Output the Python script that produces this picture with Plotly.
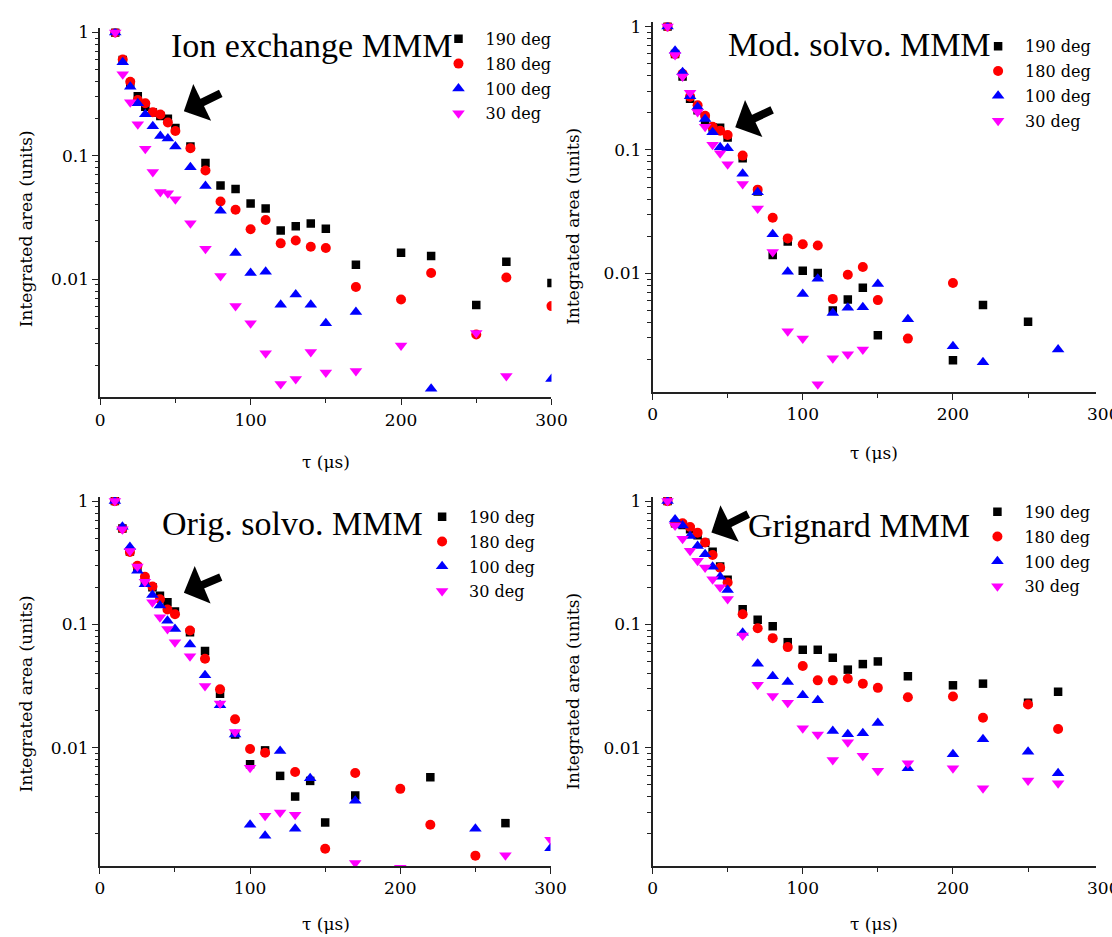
import plotly.graph_objects as go

# ---------------- data: integrated area vs delay time tau (us) ----------------
series_names = ["190 deg", "180 deg", "100 deg", "30 deg"]
panel_titles = ["Ion exchange MMM", "Mod. solvo. MMM", "Orig. solvo. MMM", "Grignard MMM"]

# Ion exchange MMM
ion_t_190 = [10, 15, 20, 25, 30, 35, 40, 45, 50, 60, 70, 80, 90, 100, 110, 120, 130, 140, 150, 170, 200, 220, 250, 270, 300]
ion_v_190 = [1.0, 0.60, 0.385, 0.304, 0.25, 0.225, 0.21, 0.20, 0.168, 0.119, 0.0874, 0.0575, 0.0538, 0.041, 0.0374,
             0.0248, 0.0269, 0.0282, 0.0256, 0.0131, 0.0164, 0.0154, 0.00616, 0.0138, 0.0093]
ion_t_180 = [10, 15, 20, 25, 30, 35, 40, 45, 50, 60, 70, 80, 90, 100, 110, 120, 130, 140, 150, 170, 200, 220, 250, 270, 300]
ion_v_180 = [1.0, 0.605, 0.398, 0.284, 0.267, 0.226, 0.216, 0.186, 0.159, 0.115, 0.0759, 0.0426, 0.0365, 0.0254, 0.0302,
             0.0195, 0.0206, 0.0183, 0.0179, 0.00863, 0.00684, 0.0112, 0.00355, 0.0103, 0.00604]
ion_t_100 = [10, 15, 20, 25, 30, 35, 40, 45, 50, 60, 70, 80, 90, 100, 110, 120, 130, 140, 150, 170, 220, 300]
ion_v_100 = [1.0, 0.575, 0.363, 0.267, 0.217, 0.174, 0.1445, 0.138, 0.119, 0.0806, 0.0569, 0.0359, 0.0163, 0.0112, 0.0115,
             0.0062, 0.0075, 0.0062, 0.00439, 0.0054, 0.00129, 0.00155]
ion_t_30 = [10, 15, 20, 25, 30, 35, 40, 45, 50, 60, 70, 80, 90, 100, 110, 120, 130, 140, 150, 170, 200, 250, 270]
ion_v_30 = [1.0, 0.458, 0.272, 0.180, 0.114, 0.074, 0.051, 0.0497, 0.0445, 0.0284, 0.0176, 0.0106, 0.00604, 0.00439, 0.00251,
            0.00141, 0.00155, 0.00256, 0.00175, 0.0018, 0.00289, 0.00365, 0.00164]

# Mod. solvo. MMM
mod_t_190 = [10, 15, 20, 25, 30, 35, 40, 45, 50, 60, 70, 80, 90, 100, 110, 120, 130, 140, 150, 200, 220, 250]
mod_v_190 = [1.0, 0.60, 0.394, 0.26, 0.21, 0.17, 0.152, 0.151, 0.126, 0.0858, 0.046, 0.0141, 0.0181, 0.0105, 0.01005,
             0.005, 0.00614, 0.00766, 0.00315, 0.00198, 0.00553, 0.00406]
mod_t_180 = [10, 15, 20, 25, 30, 35, 40, 45, 50, 60, 70, 80, 90, 100, 110, 120, 130, 140, 150, 170, 200]
mod_v_180 = [1.0, 0.60, 0.414, 0.27, 0.23, 0.189, 0.154, 0.143, 0.132, 0.09, 0.0477, 0.0282, 0.0192, 0.0172, 0.0168,
             0.00621, 0.00975, 0.01125, 0.00607, 0.00296, 0.00836]
mod_t_100 = [10, 15, 20, 25, 30, 35, 40, 45, 50, 60, 70, 80, 90, 100, 110, 120, 130, 140, 150, 170, 200, 220, 270]
mod_v_100 = [1.0, 0.637, 0.427, 0.273, 0.223, 0.178, 0.139, 0.105, 0.103, 0.0641, 0.0454, 0.0207, 0.0103, 0.00681, 0.00906,
             0.00477, 0.00526, 0.00532, 0.0082, 0.00424, 0.00257, 0.0019, 0.00241]
mod_t_30 = [10, 15, 20, 25, 30, 35, 40, 45, 50, 60, 70, 80, 90, 100, 110, 120, 130, 140]
mod_v_30 = [1.0, 0.589, 0.394, 0.291, 0.203, 0.154, 0.11, 0.094, 0.0767, 0.053, 0.0335, 0.0149, 0.00339, 0.00296, 0.00126,
            0.00205, 0.00221, 0.00241]

# Orig. solvo. MMM
orig_t_190 = [10, 15, 20, 25, 30, 35, 40, 45, 50, 60, 70, 80, 90, 100, 110, 120, 130, 140, 150, 170, 220, 270]
orig_v_190 = [1.0, 0.60, 0.39, 0.29, 0.22, 0.20, 0.171, 0.151, 0.127, 0.0863, 0.0607, 0.0274, 0.0128, 0.00732, 0.0095,
              0.0059, 0.00401, 0.00537, 0.00247, 0.00409, 0.00575, 0.00244]
orig_t_180 = [10, 15, 20, 25, 30, 35, 40, 45, 50, 60, 70, 80, 90, 100, 110, 130, 150, 170, 200, 220, 250]
orig_v_180 = [1.0, 0.60, 0.387, 0.299, 0.243, 0.203, 0.16, 0.132, 0.121, 0.0891, 0.0526, 0.0297, 0.017, 0.00975, 0.0091,
              0.00635, 0.00151, 0.00623, 0.00463, 0.00237, 0.00133]
orig_t_100 = [10, 15, 20, 25, 30, 35, 40, 45, 50, 60, 70, 80, 90, 100, 110, 120, 130, 140, 170, 250, 300]
orig_v_100 = [1.0, 0.62, 0.425, 0.272, 0.212, 0.173, 0.142, 0.107, 0.0918, 0.0687, 0.0386, 0.0221, 0.0128, 0.00237, 0.00193,
              0.00938, 0.0022, 0.00564, 0.00371, 0.0022, 0.00153]
orig_t_30 = [10, 15, 20, 25, 30, 35, 40, 45, 50, 60, 70, 80, 90, 100, 110, 120, 130, 170, 200, 270, 300]
orig_v_30 = [1.0, 0.59, 0.394, 0.295, 0.222, 0.151, 0.114, 0.0918, 0.0716, 0.0552, 0.0316, 0.0228, 0.0134, 0.00688, 0.0028,
             0.00298, 0.00286, 0.00116, 0.00106, 0.00134, 0.00179]

# Grignard MMM
grig_t = [10, 15, 20, 25, 30, 35, 40, 45, 50, 60, 70, 80, 90, 100, 110, 120, 130, 140, 150, 170, 200, 220, 250, 270]
grig_v_190 = [1.0, 0.66, 0.64, 0.59, 0.528, 0.46, 0.388, 0.295, 0.23, 0.133, 0.109, 0.0967, 0.0718, 0.0623, 0.0623,
              0.0537, 0.043, 0.0477, 0.0501, 0.038, 0.0321, 0.0331, 0.0232, 0.0284]
grig_v_180 = [1.0, 0.66, 0.66, 0.616, 0.555, 0.461, 0.366, 0.288, 0.219, 0.121, 0.0932, 0.0774, 0.0655, 0.046, 0.0352,
              0.0352, 0.0363, 0.0331, 0.0306, 0.0257, 0.026, 0.0175, 0.0224, 0.0142]
grig_v_100 = [1.0, 0.711, 0.635, 0.521, 0.433, 0.371, 0.293, 0.244, 0.19, 0.0855, 0.048, 0.038, 0.0341, 0.0267, 0.0243,
              0.0137, 0.0129, 0.0131, 0.0159, 0.00682, 0.00885, 0.0117, 0.0093, 0.00622]
grig_v_30 = [1.0, 0.635, 0.496, 0.395, 0.328, 0.29, 0.233, 0.2, 0.161, 0.0813, 0.0325, 0.0263, 0.0232, 0.0144, 0.0128,
             0.00797, 0.0111, 0.00863, 0.0065, 0.00748, 0.00682, 0.0047, 0.00542, 0.00516]

panels = [
    [(ion_t_190, ion_v_190), (ion_t_180, ion_v_180), (ion_t_100, ion_v_100), (ion_t_30, ion_v_30)],
    [(mod_t_190, mod_v_190), (mod_t_180, mod_v_180), (mod_t_100, mod_v_100), (mod_t_30, mod_v_30)],
    [(orig_t_190, orig_v_190), (orig_t_180, orig_v_180), (orig_t_100, orig_v_100), (orig_t_30, orig_v_30)],
    [(grig_t, grig_v_190), (grig_t, grig_v_180), (grig_t, grig_v_100), (grig_t, grig_v_30)],
]

# ---------------- styling ----------------
W, H = 1112, 937
SERIF = "DejaVu Serif"
TITLE_FONT = "Liberation Serif"
colors = ["#000000", "#ff0000", "#0000ff", "#ff00ff"]
symbols = ["square", "circle", "triangle-up", "triangle-down"]
sizes = [8.5, 10, 11, 11]


def px_x(p):
    return p / W


def px_y(p):
    return 1 - p / H


# plot areas in pixels: (left, right, top, bottom) and x-range upper bound
X_SCALE = 1.531  # pixels per microsecond
areas = [
    (97, 557, 22.6, 394.0, 300),
    (660, 1112, 16.6, 388.3, (1112 - 660) / X_SCALE),
    (96.7, 556, 494.2, 865.5, 300),
    (660, 1112, 494.2, 865.7, (1112 - 660) / X_SCALE),
]
y_range = [-2.96, 0.033]

minor_y = [m * 10.0 ** e for e in (-3, -2, -1) for m in range(2, 10)]

fig = go.Figure()

# legend anchor positions (marker column x, first row centre y) in pixels
legend_pos = [(461.7, 30.0), (1011.7, 37.5), (445, 511), (1011, 506)]

for i, series in enumerate(panels):
    ax_id = "" if i == 0 else str(i + 1)
    leg_id = "legend" if i == 0 else f"legend{i + 1}"
    for j, (t, v) in enumerate(series):
        fig.add_trace(go.Scatter(
            x=t, y=v, mode="markers", name=series_names[j],
            xaxis="x" + ax_id, yaxis="y" + ax_id,
            legend=leg_id, legendgroup=f"g{i}{j}",
            marker=dict(symbol=symbols[j], size=sizes[j], color=colors[j], line=dict(width=0)),
            cliponaxis=True,
        ))

layout = dict(
    width=W, height=H,
    margin=dict(l=0, r=0, t=0, b=0),
    paper_bgcolor="white", plot_bgcolor="white",
    showlegend=True,
    font=dict(family=SERIF, color="black", size=16),
)

axis_line = dict(showline=True, linecolor="#222222", linewidth=1.6, mirror=False,
                 showgrid=False, zeroline=False, ticks="outside", tickcolor="#222222",
                 tickwidth=1.4, ticklen=6, tickfont=dict(family=SERIF, size=17, color="black"))

for i, (l, r, t, b, xmax) in enumerate(areas):
    sfx = "" if i == 0 else str(i + 1)
    layout["xaxis" + sfx] = dict(
        domain=[px_x(l), px_x(r)], anchor="y" + sfx, range=[0, xmax],
        tickvals=[0, 100, 200, 300], ticktext=["0", "100", "200", "300"],
        minor=dict(tickvals=[50, 150, 250], ticks="outside", ticklen=4, tickcolor="#222222", tickwidth=1.4),
        **axis_line,
    )
    layout["yaxis" + sfx] = dict(
        domain=[px_y(b), px_y(t)], anchor="x" + sfx, type="log", range=y_range,
        tickvals=[0.01, 0.1, 1], ticktext=["0.01", "0.1", "1"],
        minor=dict(tickvals=minor_y, ticks="outside", ticklen=3.5, tickcolor="#222222", tickwidth=1.2),
        **axis_line,
    )
    mx, my = legend_pos[i]
    leg = dict(
        x=px_x(mx - 27), y=px_y(my - 14), xanchor="left", yanchor="top",
        bgcolor="rgba(0,0,0,0)", borderwidth=0, itemwidth=44, tracegroupgap=1.0,
        font=dict(family=SERIF, size=16, color="black"),
    )
    layout["legend" if i == 0 else f"legend{i + 1}"] = leg

annotations = []

# panel titles
title_pos = [(312.2, 39.5), (871.2, 39.0), (293.3, 521.0), (870.3, 523.0)]
for txt, (cx, cy) in zip(panel_titles, title_pos):
    annotations.append(dict(text=txt, x=px_x(cx), y=px_y(cy), xref="paper", yref="paper",
                            xanchor="center", yanchor="middle", showarrow=False,
                            font=dict(family=TITLE_FONT, size=34, color="black")))

# axis titles
for (cx, cy) in [(21, 224), (578, 222), (21, 692), (578, 690)]:
    annotations.append(dict(text="Integrated area (units)", x=px_x(cx), y=px_y(cy), xref="paper", yref="paper",
                            xanchor="center", yanchor="middle", showarrow=False, textangle=-90,
                            font=dict(family=SERIF, size=17, color="black")))
for (cx, cy) in [(327, 459), (886, 450), (327, 924), (886, 924)]:
    annotations.append(dict(text="τ (μs)", x=px_x(cx), y=px_y(cy), xref="paper", yref="paper",
                            xanchor="center", yanchor="middle", showarrow=False,
                            font=dict(family=SERIF, size=17, color="black")))

# the 300 tick of the right-hand panels sits just past the page edge
for (cx, cy) in [(660 + 300 * X_SCALE, 411), (660 + 300 * X_SCALE, 888)]:
    annotations.append(dict(text="300", x=px_x(cx), y=px_y(cy), xref="paper", yref="paper",
                            xanchor="center", yanchor="middle", showarrow=False,
                            font=dict(family=SERIF, size=17, color="black")))

# thick arrows marking the early-time shoulder
arrows = [((182.3, 106.0), (220.7, 87.3)), ((744.3, 122.0), (782.7, 104.0)),
          ((182.3, 590.5), (220.7, 574.3)), ((720.0, 530.0), (758.3, 510.7))]
for (tx, ty), (sx, sy) in arrows:
    annotations.append(dict(text="", x=px_x(tx), y=px_y(ty), xref="paper", yref="paper",
                            ax=sx - tx, ay=sy - ty, axref="pixel", ayref="pixel",
                            showarrow=True, arrowhead=1, arrowsize=0.85, arrowwidth=8,
                            arrowcolor="black", standoff=0))

layout["annotations"] = annotations
fig.update_layout(**layout)

fig.write_html("out.html")
